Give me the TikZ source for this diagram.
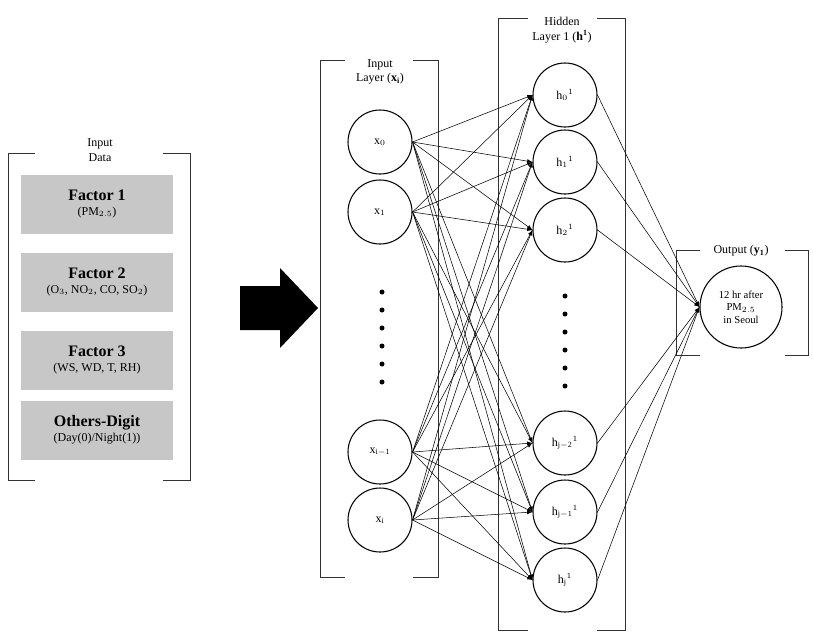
\documentclass[tikz,border=0pt]{standalone}
\usepackage{fontspec}
\setmainfont{Liberation Serif}
\usetikzlibrary{arrows,positioning,shapes.arrows}

\tikzset{
  neuron/.style={shape=circle,draw=black,thick,minimum size=64pt*0.75,inner sep=0pt,font=\small},
  factor/.style={shape=rectangle,fill=black!22,minimum width=152*0.75pt,minimum height=59*0.75pt,align=center,font=\small},
  bracketline/.style={draw=black!80,semithick},
  link/.style={->,>=latex,thin}
}

\begin{document}
\begin{tikzpicture}[x=0.75pt,y=-0.75pt]
\useasboundingbox (0,0) rectangle (813,636);

% Input Data
\node [align=center,font=\small] at (100,150) (data_lbl) {Input\\Data};
\draw [bracketline] (35,153) -- (8,153) -- (8,480) -- (35,480);
\draw [bracketline] (163,153) -- (190,153) -- (190,480) -- (163,480);
\node [factor] at (97,204) (factor_one) {{\large\bfseries Factor 1}\\(PM$_{2.5}$)};
\node [factor] at (97,282) (factor_two) {{\large\bfseries Factor 2}\\(O$_3$, NO$_2$, CO, SO$_2$)};
\node [factor] at (97,360) (factor_three) {{\large\bfseries Factor 3}\\(WS, WD, T, RH)};
\node [factor] at (97,430) (others_digit) {{\large\bfseries Others-Digit}\\(Day(0)/Night(1))};

% big arrow
\fill (240,286) -- (280,286) -- (280,268) -- (318,308) -- (280,348) -- (280,330) -- (240,330) -- cycle;

% Input Layer
\node [align=center,font=\small] at (380,72) (in_lbl) {Input\\Layer ($\mathbf{x_i}$)};
\draw [bracketline] (345,60) -- (320,60) -- (320,577) -- (345,577);
\draw [bracketline] (413,60) -- (438,60) -- (438,577) -- (413,577);
\node [neuron] at (380,142) (x_a) {x$_0$};
\node [neuron] at (380,212) (x_b) {x$_1$};
\node [neuron] at (380,452) (x_c) {x$_{\mathrm{i-1}}$};
\node [neuron] at (380,520) (x_d) {x$_\mathrm{i}$};
\foreach \y in {292,310,...,382} \fill (382,\y) circle (2.5);

% Hidden Layer
\node [align=center,font=\small] at (562,30) (hid_lbl) {Hidden\\Layer 1 ($\mathbf{h^1}$)};
\draw [bracketline] (528,18) -- (498,18) -- (498,630) -- (528,630);
\draw [bracketline] (597,18) -- (625,18) -- (625,630) -- (597,630);
\node [neuron] at (565,95) (h_a) {h$_0{}^1$};
\node [neuron] at (565,162) (h_b) {h$_1{}^1$};
\node [neuron] at (565,230) (h_c) {h$_2{}^1$};
\node [neuron] at (565,443) (h_d) {h$_{\mathrm{j-2}}{}^1$};
\node [neuron] at (565,512) (h_e) {h$_{\mathrm{j-1}}{}^1$};
\node [neuron] at (565,580) (h_f) {h$_\mathrm{j}{}^1$};
\foreach \y in {296,314,...,386} \fill (565,\y) circle (2.5);

% Output
\node [font=\small] at (741,251) (out_lbl) {Output ($\mathbf{y_1}$)};
\draw [bracketline] (700,250) -- (676,250) -- (676,355) -- (700,355);
\draw [bracketline] (785,250) -- (808,250) -- (808,355) -- (785,355);
\node [neuron,minimum size=82*0.75pt,align=center,font=\footnotesize] at (741,307) (y_out)
      {12 hr after\\PM$_{2.5}$\\in Seoul};

\foreach \i in {x_a,x_b,x_c,x_d}
  \foreach \h in {h_a,h_b,h_c,h_d,h_e,h_f}
    \draw [link] (\i.east) -- (\h.west);
\foreach \h in {h_a,h_b,h_c,h_d,h_e,h_f}
  \draw [link] (\h.east) -- (y_out.west);

\end{tikzpicture}
\end{document}
